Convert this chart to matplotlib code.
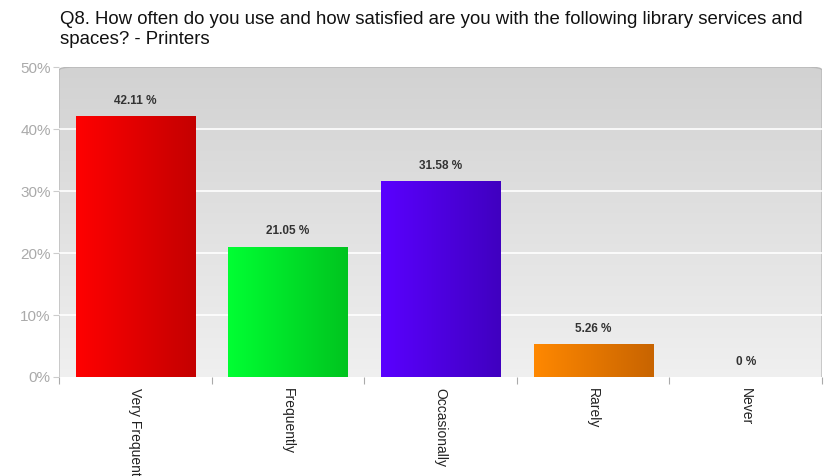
import numpy as np
import matplotlib
matplotlib.use("Agg")
import matplotlib.pyplot as plt
from matplotlib.colors import LinearSegmentedColormap
from matplotlib.patches import FancyBboxPatch

plt.rcParams['font.family'] = ['Liberation Sans', 'DejaVu Sans']

categories = ['Very Frequently', 'Frequently', 'Occasionally', 'Rarely', 'Never']
values = [42.11, 21.05, 31.58, 5.26, 0.0]
value_labels = ['42.11 %', '21.05 %', '31.58 %', '5.26 %', '0 %']
bar_colors = [('#ff0000', '#c40000'), ('#00ff33', '#00c41f'),
              ('#5a00ff', '#4000c0'), ('#ff8800', '#c86400'), ('#cccccc', '#aaaaaa')]
yticks = [0, 10, 20, 30, 40, 50]
title = ('Q8. How often do you use and how satisfied are you with the following library services and\n'
         'spaces? - Printers')

fig = plt.figure(figsize=(8.4, 4.76), dpi=100)
ax = fig.add_axes([0.0702, 0.208, 0.9084, 0.651])
n = len(categories)

# rounded background with vertical gradient
bg = FancyBboxPatch((0.0, -0.01), 1.0, 1.01, boxstyle='round,pad=0,rounding_size=0.02',
                    transform=ax.transAxes, facecolor='none', edgecolor='#b8b8b8',
                    linewidth=1.0, zorder=0.5, mutation_aspect=0.5)
ax.add_patch(bg)
grad = np.linspace(0, 1, 256).reshape(-1, 1)
bg_cmap = LinearSegmentedColormap.from_list('bg', ['#f0f0f0', '#d2d2d2'])
im = ax.imshow(grad, cmap=bg_cmap, origin='lower', aspect='auto',
               extent=(-0.5, n - 0.5, -0.5, 50), zorder=0.2)
im.set_clip_path(bg)

for y in yticks[1:-1]:
    ax.axhline(y, color='white', linewidth=1.2, zorder=0.6)

width = 0.78
hgrad = np.linspace(0, 1, 256).reshape(1, -1)
bars = ax.bar(range(n), values, width=width, color='none', edgecolor='none', zorder=2)
for i, (b, v) in enumerate(zip(bars, values)):
    if v > 0:
        cm = LinearSegmentedColormap.from_list('b%d' % i, list(bar_colors[i]))
        x0 = b.get_x()
        bim = ax.imshow(hgrad, cmap=cm, aspect='auto',
                        extent=(x0, x0 + width, 0, v), zorder=2)
        bim.set_clip_path(b)
    ax.text(i, v + 1.5, value_labels[i], ha='center', va='bottom',
            fontsize=8.5, fontweight='bold', color='#333333', zorder=3)

ax.set_xlim(-0.5, n - 0.5)
ax.set_ylim(0, 50)
for s in ax.spines.values():
    s.set_visible(False)

ax.set_yticks(yticks)
ax.set_yticklabels(['%d%%' % t for t in yticks], color='#aaaaaa', fontsize=11)
ax.tick_params(axis='y', length=4, color='#cccccc', pad=2)

ax.set_xticks(np.arange(-0.5, n, 1.0), minor=False)
ax.set_xticklabels([])
ax.tick_params(axis='x', which='major', length=5, color='#aaaaaa', direction='out', pad=0)
ax.set_xticks(range(n), minor=True)
ax.set_xticklabels(categories, minor=True, rotation=-90, fontsize=10, color='#222222',
                   va='top', ha='center')
ax.tick_params(axis='x', which='minor', length=0, pad=8)

fig.text(0.0714, 0.977, title, ha='left', va='top', fontsize=13.4, color='#111111',
         linespacing=1.2)

fig.savefig('out.png', dpi=100)
